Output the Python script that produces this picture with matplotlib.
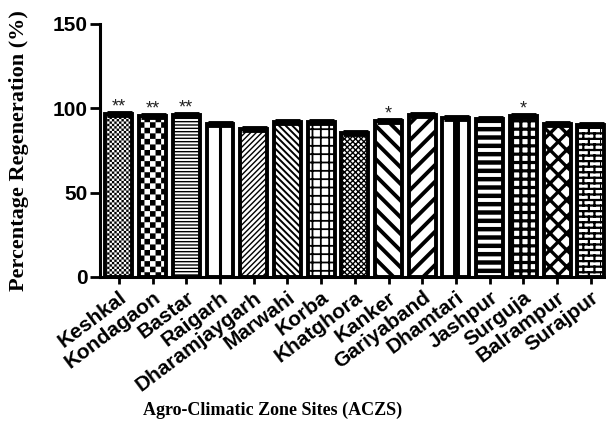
import warnings
warnings.filterwarnings("ignore")
import numpy as np
import matplotlib
matplotlib.use("Agg")
import matplotlib.pyplot as plt
import matplotlib.hatch as mhatch
from matplotlib.path import Path

# ---------------- data ----------------
sites = ["Keshkal", "Kondagaon", "Bastar", "Raigarh", "Dharamjaygarh", "Marwahi",
         "Korba", "Khatghora", "Kanker", "Gariyaband", "Dhamtari", "Jashpur",
         "Surguja", "Balrampur", "Surajpur"]
regeneration = [96.5, 95.5, 96.3, 90.8, 87.5, 92.0, 91.8, 85.5, 92.5, 96.0,
                94.3, 93.5, 95.5, 90.5, 90.0]
errors = [0.6, 0.6, 0.6, 0.6, 0.6, 0.6, 0.6, 0.6, 0.6, 0.6, 0.6, 0.6, 0.6, 0.6, 0.6]
significance = ["**", "**", "**", "", "", "", "", "", "*", "", "", "", "*", "", ""]
y_ticks = [0, 50, 100, 150]


# ---------------- custom hatches ----------------
class CheckerHatch(mhatch.HatchPatternBase):
    def __init__(self, hatch, density):
        self.n = hatch.count('C') * density
        if self.n % 2:
            self.n += 1
        self.num_vertices = (self.n * self.n // 2) * 5 if self.n else 0

    def set_vertices_and_codes(self, vertices, codes):
        s = 1.0 / self.n
        k = 0
        for i in range(self.n):
            for j in range(self.n):
                if (i + j) % 2 == 0:
                    x0, y0 = i * s, j * s
                    vertices[k:k + 5] = [(x0, y0), (x0 + s, y0), (x0 + s, y0 + s),
                                         (x0, y0 + s), (x0, y0)]
                    codes[k:k + 5] = [Path.MOVETO, Path.LINETO, Path.LINETO,
                                      Path.LINETO, Path.CLOSEPOLY]
                    k += 5


class BrickHatch(mhatch.HatchPatternBase):
    def __init__(self, hatch, density):
        self.n = hatch.count('B') * density
        if self.n % 2:
            self.n += 1
        self.num_vertices = ((self.n + 1) + self.n * (self.n // 2)) * 2 if self.n else 0

    def set_vertices_and_codes(self, vertices, codes):
        h = 1.0 / self.n
        k = 0
        for r in range(self.n + 1):
            vertices[k:k + 2] = [(0, r * h), (1, r * h)]
            codes[k:k + 2] = [Path.MOVETO, Path.LINETO]
            k += 2
        w = 2.0 / self.n
        for r in range(self.n):
            off = 0.0 if r % 2 == 0 else w / 2
            for c in range(self.n // 2):
                xx = c * w + off
                vertices[k:k + 2] = [(xx, r * h), (xx, (r + 1) * h)]
                codes[k:k + 2] = [Path.MOVETO, Path.LINETO]
                k += 2


mhatch._hatch_types.append(CheckerHatch)
mhatch._hatch_types.append(BrickHatch)

# hatch pattern and hatch line width per bar
hatches = ["CCCCCCC", "CCC", "-----", "", "//////", "\\\\\\\\\\", "++", "xxxxxx",
           "\\\\", "//", "", "--", "++", "xx", "BBB"]
hatch_lw = [0.01, 0.01, 1.0, 1.0, 1.0, 1.4, 1.3, 1.0, 2.8, 2.8, 1.0, 3.2, 2.3, 2.4, 1.6]
center_lines = {3: 2.2, 10: 5.0}  # Raigarh, Dhamtari: vertical centre stripe

plt.rcParams['font.family'] = ['Liberation Sans', 'DejaVu Sans']

fig = plt.figure(figsize=(6.06, 4.28), dpi=100)
ax = fig.add_axes([0.165, 0.353, 0.835, 0.591])

x = np.arange(len(sites))
for i in x:
    with plt.rc_context({'hatch.linewidth': hatch_lw[i], 'hatch.color': 'black'}):
        ax.bar(i, regeneration[i], width=0.8, color='white', edgecolor='black',
               linewidth=2.8, hatch=hatches[i], zorder=2)
    if i in center_lines:
        ax.vlines(i, 0, regeneration[i], colors='black', linewidth=center_lines[i], zorder=3)

ax.errorbar(x, regeneration, yerr=errors, fmt='none', ecolor='black',
            elinewidth=2.5, capsize=9, capthick=3.5, zorder=4)

for i in x:
    if significance[i]:
        ax.text(i, regeneration[i] + errors[i] + 3.5, significance[i],
                ha='center', va='center', fontsize=13, color='#222222')

ax.set_ylim(0, 150)
ax.set_xlim(-0.56, len(sites) - 0.55)
ax.set_yticks(y_ticks)
ax.set_yticklabels([str(t) for t in y_ticks], fontsize=15, fontweight='bold')
ax.set_xticks(x)
ax.set_xticklabels(sites, rotation=37, ha='right', rotation_mode='anchor',
                   fontsize=15, fontweight='bold')

for side in ['top', 'right']:
    ax.spines[side].set_visible(False)
for side in ['left', 'bottom']:
    ax.spines[side].set_linewidth(2.2)
ax.tick_params(axis='y', length=7, width=2.0, pad=2)
ax.tick_params(axis='x', length=5, width=2.0, pad=3)

ax.set_ylabel("Percentage Regeneration (%)", fontsize=16, fontweight='bold',
              family=['Liberation Serif', 'DejaVu Serif'])
ax.yaxis.set_label_coords(-0.14, 0.5)
fig.text(0.449, 0.042, "Agro-Climatic Zone Sites (ACZS)", ha='center', va='center',
         fontsize=13, fontweight='bold', family=['Liberation Serif', 'DejaVu Serif'])

fig.savefig("out.png", dpi=100)
